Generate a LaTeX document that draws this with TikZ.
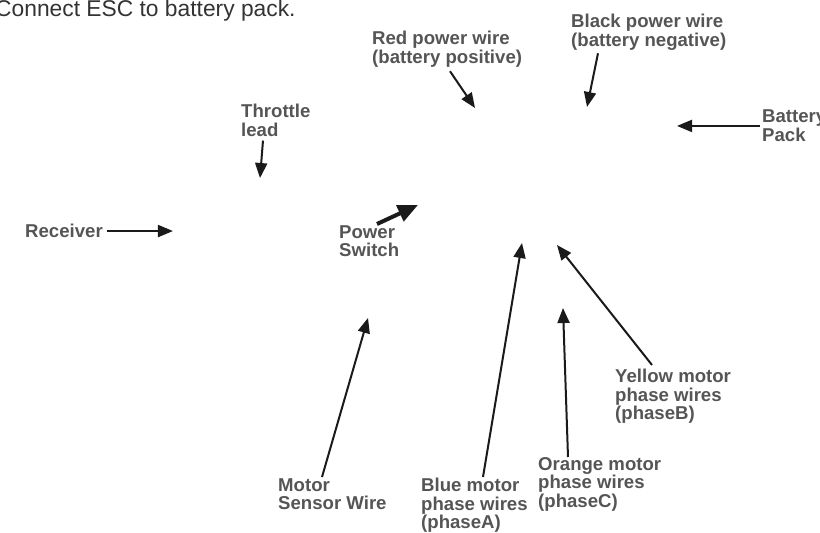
\documentclass[tikz,border=0pt]{standalone}
\usepackage{fontspec}
\setmainfont{Liberation Sans}
\usetikzlibrary{positioning,calc,arrows.meta}
\definecolor{labelgray}{RGB}{85,85,85}
\definecolor{titlegray}{RGB}{51,51,51}
\definecolor{arrowblack}{RGB}{26,26,26}
\tikzset{LABEL/.style={inner sep=0pt,anchor=north west,align=left,text=labelgray,font=\fontsize{18.6}{18.5}\selectfont\bfseries}}
\tikzset{ARROW/.style={line width=2pt,draw=arrowblack,-{Triangle[length=15pt,width=12pt]}}}
\tikzset{BIGARROW/.style={line width=4pt,draw=arrowblack,-{Triangle[length=20pt,width=17pt]}}}

\begin{document}
\begin{tikzpicture}[x=1pt,y=1pt]

\useasboundingbox (0,0) rectangle (820,-533);

\node[inner sep=0pt,anchor=base west,text=titlegray,font=\fontsize{22.8}{24}\selectfont] (n_title) at (-5,-16.5) {Connect ESC to battery pack.};

\node[LABEL] (n_red) at (372,-31) {Red power wire\\(battery positive)};
\node[LABEL] (n_black) at (571,-14) {Black power wire\\(battery negative)};
\node[LABEL] (n_battery) at (762,-110) {Battery\\Pack};
\node[LABEL] (n_throttle) at (241,-104) {Throttle\\lead};
\node[LABEL] (n_receiver) at (25,-224) {Receiver};
\node[LABEL] (n_power) at (339,-225) {Power\\Switch};
\node[LABEL] (n_motor) at (278,-478) {Motor\\Sensor Wire};
\node[LABEL] (n_blue) at (421,-478) {Blue motor\\phase wires\\(phaseA)};
\node[LABEL] (n_orange) at (538,-457) {Orange motor\\phase wires\\(phaseC)};
\node[LABEL] (n_yellow) at (615,-369) {Yellow motor\\phase wires\\(phaseB)};

\coordinate (c_red) at (475,-108);
\coordinate (c_black) at (587,-107);
\coordinate (c_battery) at ($(n_battery.west)+(-85,0)$);
\coordinate (c_throttle) at (260,-178);
\coordinate (c_receiver) at ($(n_receiver.east)+(70,0)$);
\coordinate (c_power) at (418,-205);
\coordinate (c_motor) at (368,-318);
\coordinate (c_blue) at (522,-243);
\coordinate (c_orange) at (563,-308);
\coordinate (c_yellow) at (557,-245);

\draw[ARROW] ($(n_red.south west)+(78,-4)$) -- (c_red);
\draw[ARROW] ($(n_black.south west)+(27,-3)$) -- (c_black);
\draw[ARROW] ($(n_battery.west)+(-2,0)$) -- (c_battery);
\draw[ARROW] ($(n_throttle.south west)+(22,-4)$) -- (c_throttle);
\draw[ARROW] ($(n_receiver.east)+(4,0)$) -- (c_receiver);
\draw[BIGARROW] ($(n_power.north west)+(38,1)$) -- (c_power);
\draw[ARROW] ($(n_motor.north west)+(44,1)$) -- (c_motor);
\draw[ARROW] ($(n_blue.north west)+(62,1)$) -- (c_blue);
\draw[ARROW] ($(n_orange.north west)+(30,0)$) -- (c_orange);
\draw[ARROW] ($(n_yellow.north west)+(37,4)$) -- (c_yellow);

\end{tikzpicture}
\end{document}
